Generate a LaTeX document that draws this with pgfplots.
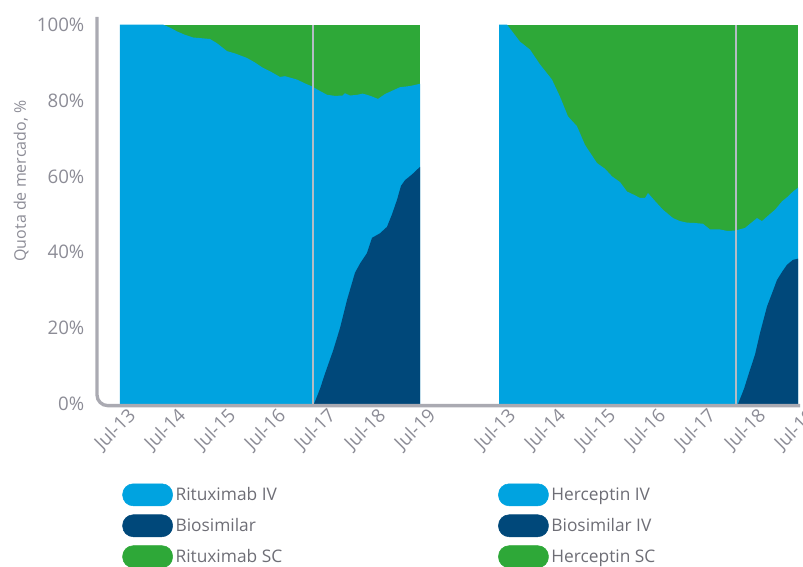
\documentclass[border=0pt]{standalone}
\usepackage{pgfplots}
\pgfplotsset{compat=1.18}
\usepackage{fontspec}
\setmainfont{Open Sans}
\definecolor{lblue}{RGB}{0,163,224}
\definecolor{dblue}{RGB}{0,72,122}
\definecolor{sgreen}{RGB}{46,168,56}
\definecolor{axgray}{RGB}{170,170,178}
\definecolor{txtgray}{RGB}{140,140,150}
\definecolor{leggray}{RGB}{110,110,118}
\definecolor{vgray}{RGB}{180,188,196}
\begin{document}
\begin{tikzpicture}
\useasboundingbox (-72.75pt,-122.25pt) rectangle (529.5pt,303pt);
\begin{axis}[
  at={(0,0)}, anchor=south west,
  scale only axis, width=527.25pt, height=290.25pt,
  xmin=-0.46, xmax=13.6, ymin=0, ymax=102,
  clip=false,
  axis line style={draw=none}, tick style={draw=none},
  major tick length=0pt,
  xtick={0,1,2,3,4,5,6,7.6,8.6,9.6,10.6,11.6,12.6,13.6},
  xticklabels={Jul-13,Jul-14,Jul-15,Jul-16,Jul-17,Jul-18,Jul-19,Jul-13,Jul-14,Jul-15,Jul-16,Jul-17,Jul-18,Jul-19},
  xticklabel style={rotate=45, anchor=base east, text=txtgray, font=\fontsize{14}{16}\selectfont, inner sep=0pt, xshift=2.25pt, yshift=-15.5pt},
  ytick={0,20,40,60,80,100},
  yticklabels={0\%,20\%,40\%,60\%,80\%,100\%},
  yticklabel style={text=txtgray, font=\fontsize{14}{16}\selectfont, xshift=-6pt},
  ylabel={Quota de mercado, \%},
  ylabel style={at={(axis description cs:-0.108,0.576)}, anchor=center, text=txtgray, font=\fontsize{12}{14}\selectfont},
  legend columns=2,
  legend image code/.code={\fill[#1, rounded corners=8pt] (0pt,-8.25pt) rectangle (37.5pt,8.25pt);},
  legend style={at={(axis description cs:0.03,-0.198)}, anchor=north west, draw=none, fill=none,
    font=\fontsize{13}{15}\selectfont, text=leggray, row sep=6.3pt, cells={anchor=west},
    /tikz/every even column/.append style={column sep=160pt}},
]
% Rituximab panel
\addplot[fill=sgreen, draw=none, forget plot] coordinates {(0,100)(6,100)} \closedcycle;
\addplot[fill=lblue, draw=none, forget plot] coordinates {
(0,100)(0.86,100)(1.0,99.2)(1.14,98.2)(1.3,97.3)(1.46,96.6)(1.8,96.2)(1.95,95)(2.14,93)(2.3,92.4)(2.54,91.2)(2.7,90)(2.86,88.6)(3.0,87.7)(3.2,86.2)(3.3,86.4)(3.54,85.5)(3.7,84.5)(3.84,83.7)(4.0,82.5)(4.14,81.5)(4.3,81.2)(4.45,81.3)(4.5,81.9)(4.6,81.3)(4.75,81.5)(4.85,81.8)(4.94,81.5)(5.05,81.0)(5.16,80.4)(5.3,81.7)(5.45,82.6)(5.6,83.5)(5.8,83.8)(6,84.4)} \closedcycle;
\addplot[fill=dblue, draw=none, forget plot] coordinates {
(3.88,0)(4.0,4)(4.1,8)(4.26,14)(4.4,20)(4.54,27.4)(4.62,31)(4.7,34.6)(4.8,37)(4.94,39.8)(5.04,43.8)(5.2,45)(5.34,46.7)(5.44,50)(5.54,53.8)(5.62,57.5)(5.7,59)(5.84,60.5)(6,62.5)} \closedcycle;
\addplot[vgray, line width=1.5pt, forget plot] coordinates {(3.86,0)(3.86,100)};
% Herceptin panel
\addplot[fill=sgreen, draw=none, forget plot] coordinates {(7.58,100)(13.56,100)} \closedcycle;
\addplot[fill=lblue, draw=none, forget plot] coordinates {
(7.58,100)(7.74,100)(8.0,95.5)(8.2,93.4)(8.4,89.5)(8.64,85.5)(8.8,81)(8.96,75.8)(9.14,73.2)(9.3,68.3)(9.54,63.5)(9.7,62)(9.84,60)(10.0,58.5)(10.14,56)(10.3,55)(10.4,54.3)(10.5,54.3)(10.56,55.6)(10.7,53.5)(10.86,51.2)(11.06,49)(11.2,48.2)(11.34,47.8)(11.5,47.7)(11.66,47.5)(11.8,46)(12.0,46)(12.15,45.6)(12.3,45.7)(12.5,46.4)(12.6,47.5)(12.74,49)(12.84,48.2)(12.94,49.4)(13.1,51.2)(13.24,53.4)(13.35,54.6)(13.46,56)(13.56,57)} \closedcycle;
\addplot[fill=dblue, draw=none, forget plot] coordinates {
(12.36,0)(12.48,4)(12.6,9)(12.7,13)(12.8,18.7)(12.94,25.7)(13.05,29.5)(13.14,32.7)(13.25,35)(13.34,36.7)(13.46,38)(13.56,38.3)} \closedcycle;
\addplot[vgray, line width=1.5pt, forget plot] coordinates {(12.32,0)(12.32,100)};
% axis line
\draw[axgray, line width=2.5pt, rounded corners=8pt] (rel axis cs:0,1) -- ([yshift=-1.2pt]rel axis cs:0,0) -- ([yshift=-1.2pt]rel axis cs:1,0);
% legend
\addlegendimage{lblue}\addlegendentry{Rituximab IV}
\addlegendimage{lblue}\addlegendentry{Herceptin IV}
\addlegendimage{dblue}\addlegendentry{Biosimilar}
\addlegendimage{dblue}\addlegendentry{Biosimilar IV}
\addlegendimage{sgreen}\addlegendentry{Rituximab SC}
\addlegendimage{sgreen}\addlegendentry{Herceptin SC}
\end{axis}
\end{tikzpicture}
\end{document}
